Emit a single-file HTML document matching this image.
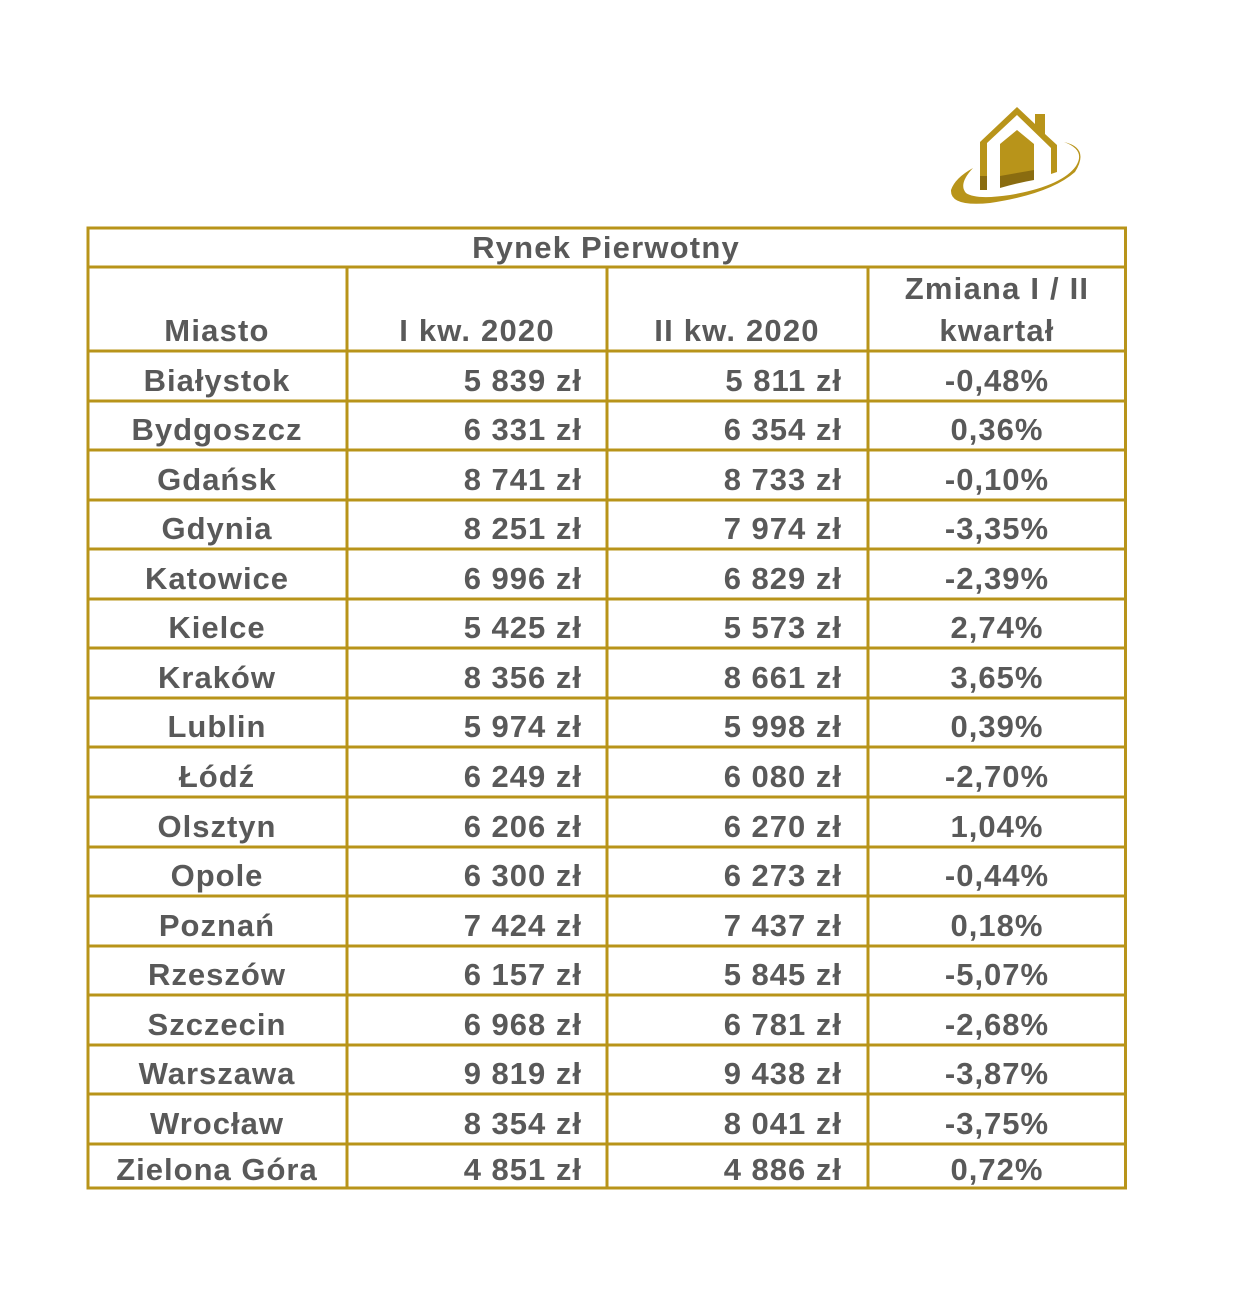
<!DOCTYPE html>
<html><head><meta charset="utf-8"><style>html,body{margin:0;padding:0;background:#fff}svg{display:block}</style></head>
<body>
<svg width="1240" height="1299" xmlns="http://www.w3.org/2000/svg" font-family="Liberation Sans, Arial, sans-serif" font-weight="bold" fill="#595959">
<!-- logo -->
<g>
<path d="M980 190 L980 142 L1017 107 L1035 124 L1035 114 L1045 114 L1045 134 L1057 145 L1057 172 L1051 174 L1051 148 L1017 115 L987 143 L987 190 Z" fill="#b8941a"/>
<path d="M1000 144 L1017 130 L1034 144 L1034 176 Q1017 179 1000 183 Z" fill="#b8941a"/>
<path d="M1000 176 Q1017 173 1034 170 L1034 180 Q1017 183 1000 188 Z" fill="#8a6c10"/>
<path d="M980 176 L987 176 L987 190 L980 190 Z" fill="#8a6c10"/>
<path d="M1064 142 Q1090 148 1075 172 Q1050 194 990 203 Q950 207 951 190 Q955 178 973 168 Q958 184 966 193 Q976 200 1010 195 Q1062 186 1076 166 Q1086 150 1064 142 Z" fill="#b8941a"/>
</g>
<g stroke="#b8941a" stroke-width="3" fill="none">
<rect x="88" y="228" width="1037.5" height="960"/>
<line x1="88" y1="267" x2="1126" y2="267"/>
<line x1="347" y1="267" x2="347" y2="1188"/>
<line x1="607" y1="267" x2="607" y2="1188"/>
<line x1="868" y1="267" x2="868" y2="1188"/>
<line x1="88" y1="351" x2="1126" y2="351"/>
<line x1="88" y1="401" x2="1126" y2="401"/>
<line x1="88" y1="450" x2="1126" y2="450"/>
<line x1="88" y1="500" x2="1126" y2="500"/>
<line x1="88" y1="549" x2="1126" y2="549"/>
<line x1="88" y1="599" x2="1126" y2="599"/>
<line x1="88" y1="648" x2="1126" y2="648"/>
<line x1="88" y1="698" x2="1126" y2="698"/>
<line x1="88" y1="747" x2="1126" y2="747"/>
<line x1="88" y1="797" x2="1126" y2="797"/>
<line x1="88" y1="847" x2="1126" y2="847"/>
<line x1="88" y1="896" x2="1126" y2="896"/>
<line x1="88" y1="946" x2="1126" y2="946"/>
<line x1="88" y1="995" x2="1126" y2="995"/>
<line x1="88" y1="1045" x2="1126" y2="1045"/>
<line x1="88" y1="1094" x2="1126" y2="1094"/>
<line x1="88" y1="1144" x2="1126" y2="1144"/>
</g>
<g font-size="31" letter-spacing="1.2">
<text x="606" y="258" text-anchor="middle">Rynek Pierwotny</text>
<text x="217" y="341" text-anchor="middle">Miasto</text>
<text x="477" y="341" text-anchor="middle">I kw. 2020</text>
<text x="737" y="341" text-anchor="middle">II kw. 2020</text>
<text x="997" y="299" text-anchor="middle">Zmiana I / II</text>
<text x="997" y="341" text-anchor="middle">kwartał</text>
</g>
<g font-size="31" letter-spacing="1">
<g text-anchor="middle">
<text x="217" y="391">Białystok</text>
<text x="217" y="440">Bydgoszcz</text>
<text x="217" y="490">Gdańsk</text>
<text x="217" y="539">Gdynia</text>
<text x="217" y="589">Katowice</text>
<text x="217" y="638">Kielce</text>
<text x="217" y="688">Kraków</text>
<text x="217" y="737">Lublin</text>
<text x="217" y="787">Łódź</text>
<text x="217" y="837">Olsztyn</text>
<text x="217" y="886">Opole</text>
<text x="217" y="936">Poznań</text>
<text x="217" y="985">Rzeszów</text>
<text x="217" y="1035">Szczecin</text>
<text x="217" y="1084">Warszawa</text>
<text x="217" y="1134">Wrocław</text>
<text x="217" y="1180">Zielona Góra</text>
</g>
<g text-anchor="end">
<text x="582" y="391">5 839 zł</text><text x="842" y="391">5 811 zł</text>
<text x="582" y="440">6 331 zł</text><text x="842" y="440">6 354 zł</text>
<text x="582" y="490">8 741 zł</text><text x="842" y="490">8 733 zł</text>
<text x="582" y="539">8 251 zł</text><text x="842" y="539">7 974 zł</text>
<text x="582" y="589">6 996 zł</text><text x="842" y="589">6 829 zł</text>
<text x="582" y="638">5 425 zł</text><text x="842" y="638">5 573 zł</text>
<text x="582" y="688">8 356 zł</text><text x="842" y="688">8 661 zł</text>
<text x="582" y="737">5 974 zł</text><text x="842" y="737">5 998 zł</text>
<text x="582" y="787">6 249 zł</text><text x="842" y="787">6 080 zł</text>
<text x="582" y="837">6 206 zł</text><text x="842" y="837">6 270 zł</text>
<text x="582" y="886">6 300 zł</text><text x="842" y="886">6 273 zł</text>
<text x="582" y="936">7 424 zł</text><text x="842" y="936">7 437 zł</text>
<text x="582" y="985">6 157 zł</text><text x="842" y="985">5 845 zł</text>
<text x="582" y="1035">6 968 zł</text><text x="842" y="1035">6 781 zł</text>
<text x="582" y="1084">9 819 zł</text><text x="842" y="1084">9 438 zł</text>
<text x="582" y="1134">8 354 zł</text><text x="842" y="1134">8 041 zł</text>
<text x="582" y="1180">4 851 zł</text><text x="842" y="1180">4 886 zł</text>
</g>
<g text-anchor="middle">
<text x="997" y="391">-0,48%</text>
<text x="997" y="440">0,36%</text>
<text x="997" y="490">-0,10%</text>
<text x="997" y="539">-3,35%</text>
<text x="997" y="589">-2,39%</text>
<text x="997" y="638">2,74%</text>
<text x="997" y="688">3,65%</text>
<text x="997" y="737">0,39%</text>
<text x="997" y="787">-2,70%</text>
<text x="997" y="837">1,04%</text>
<text x="997" y="886">-0,44%</text>
<text x="997" y="936">0,18%</text>
<text x="997" y="985">-5,07%</text>
<text x="997" y="1035">-2,68%</text>
<text x="997" y="1084">-3,87%</text>
<text x="997" y="1134">-3,75%</text>
<text x="997" y="1180">0,72%</text>
</g>
</g>
</svg>
</body></html>
